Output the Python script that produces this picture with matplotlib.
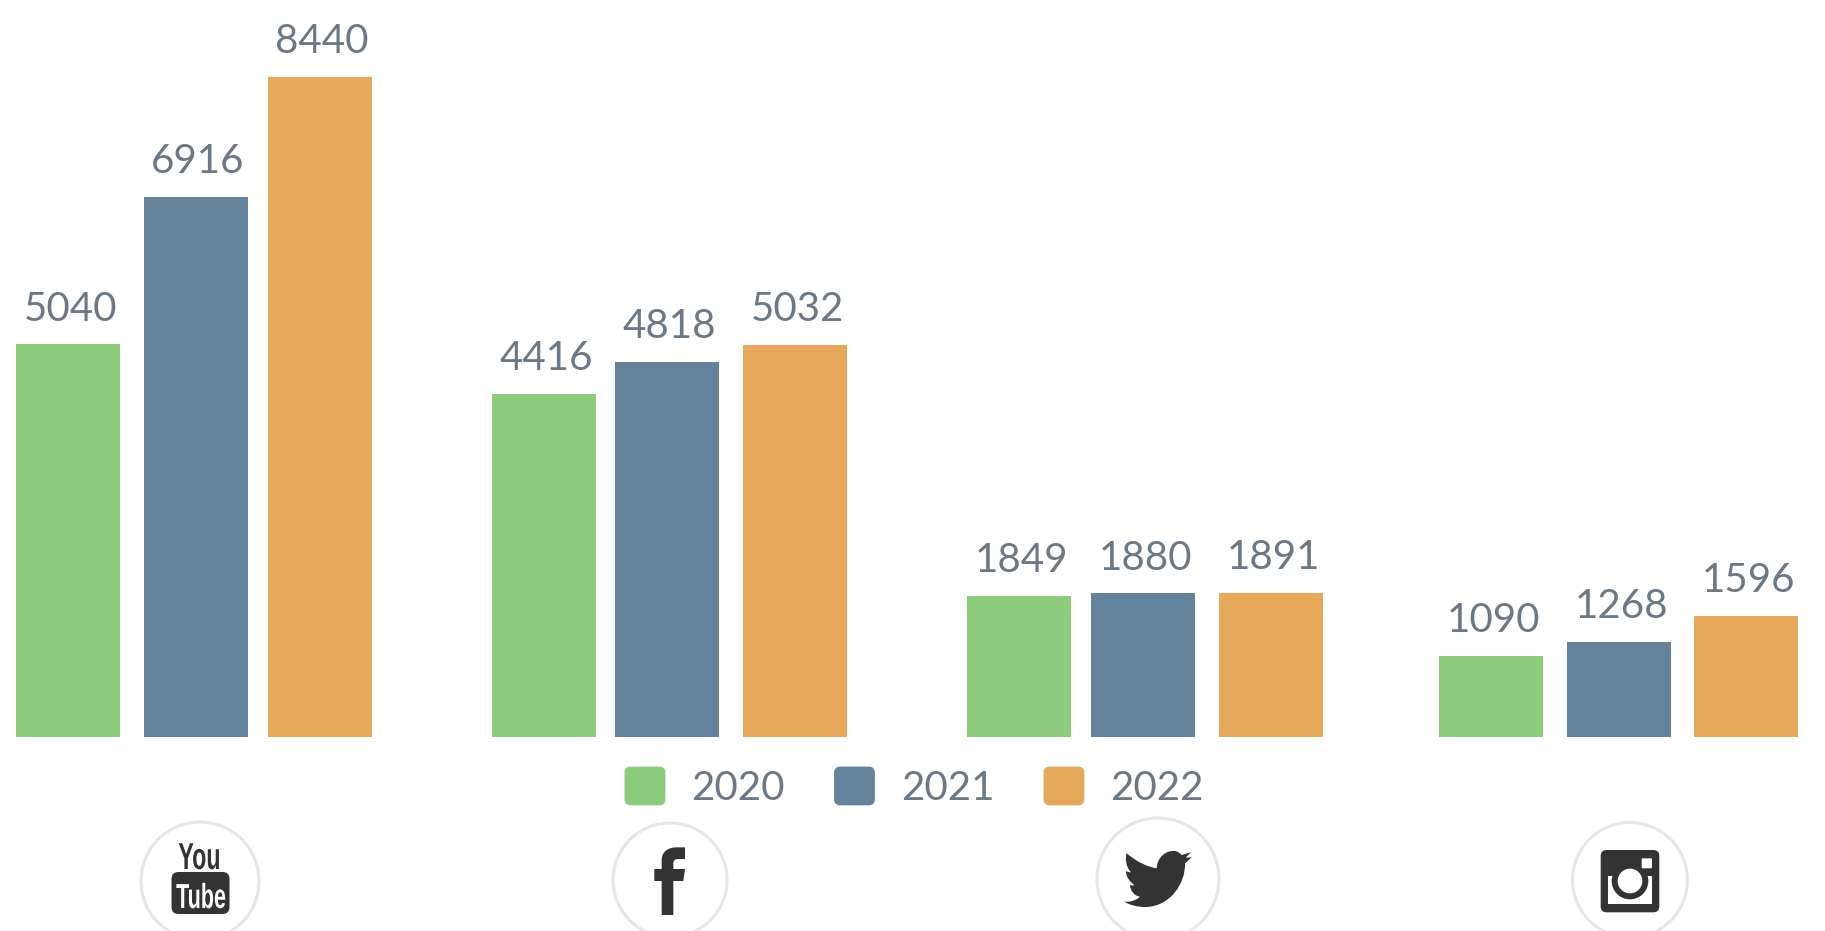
import matplotlib
matplotlib.use('Agg')
import matplotlib.pyplot as plt
from matplotlib.patches import Circle, FancyBboxPatch, Patch, PathPatch, Rectangle
from matplotlib.legend_handler import HandlerPatch
from matplotlib.path import Path
from matplotlib.patheffects import AbstractPathEffect
from matplotlib.transforms import Affine2D

plt.rcParams['font.family'] = ['Lato', 'DejaVu Sans']

years = ['2020', '2021', '2022']
values_2020 = [5040, 4416, 1849, 1090]
values_2021 = [6916, 4818, 1880, 1268]
values_2022 = [8440, 5032, 1891, 1596]

# left edges of the bars, the groups are not evenly spaced in the original
lefts_2020 = [16, 492, 967, 1439]
lefts_2021 = [144, 615, 1091, 1567]
lefts_2022 = [268, 743, 1219, 1694]
bar_width = 104

green = '#8CCB7C'
blue = '#64839B'
orange = '#E6A85B'
grey_text = '#6C7883'
dark = '#333333'
ring = '#E6E6E6'

W, H = 1825, 931
bar_base = 736.5


class Squeeze(AbstractPathEffect):
    # narrows a text sideways around cx (display pixels), for the YouTube logo
    def __init__(self, cx, k):
        super().__init__()
        self.cx = cx
        self.k = k

    def draw_path(self, renderer, gc, tpath, affine, rgbFace=None):
        t = affine + Affine2D().translate(-self.cx, 0).scale(self.k, 1).translate(self.cx, 0)
        renderer.draw_path(gc, tpath, t, rgbFace)


def rounded_handle(legend, orig_handle, xdescent, ydescent, width, height, fontsize):
    return FancyBboxPatch((-xdescent, -ydescent), width, height,
                          boxstyle='round,pad=0,rounding_size=4', linewidth=0)


fig = plt.figure(figsize=(W / 100, H / 100), dpi=100)
fig.patch.set_facecolor('white')

# bars: y scale in values, baseline of the original is slightly above zero
ax = fig.add_axes([0, (H - bar_base) / H, 1, bar_base / H])
ax.set_xlim(0, W)
ax.set_ylim(65, 9411)
ax.axis('off')

for lefts, vals, col in zip([lefts_2020, lefts_2021, lefts_2022],
                            [values_2020, values_2021, values_2022],
                            [green, blue, orange]):
    ax.bar(lefts, vals, width=bar_width, align='edge', color=col, linewidth=0)
    for l, v in zip(lefts, vals):
        ax.annotate(str(v), (l + bar_width / 2, v), xytext=(1.5, 17), textcoords='offset points',
                    ha='center', va='baseline', fontsize=29, color=grey_text, annotation_clip=False)

handles = [Patch(color=c, label=y) for c, y in zip([green, blue, orange], years)]
ax.legend(handles=handles, ncol=3, frameon=False, fontsize=29, labelcolor=grey_text,
          handlelength=0.98, handleheight=1.05, handletextpad=0.66, columnspacing=1.24,
          borderpad=0, borderaxespad=0, loc='center', bbox_to_anchor=(914.5 / W, 1 - 787 / H),
          bbox_transform=fig.transFigure,
          handler_map={Patch: HandlerPatch(patch_func=rounded_handle)})

# icons, in picture pixels
ic = fig.add_axes([0, 0, 1, 1], facecolor='none')
ic.set_xlim(0, W)
ic.set_ylim(H, 0)
ic.axis('off')

for cx, cy, r in [(200, 881, 59), (670, 880, 57), (1158, 879, 61), (1630, 880, 57.5)]:
    ic.add_patch(Circle((cx, cy), r, fill=False, edgecolor=ring, linewidth=2.2))


def icon_path(x0, pts, codes):
    return Path([(x0 + px / 3, 815 + py / 3) for px, py in pts], codes)


M, L, C, Z = Path.MOVETO, Path.LINETO, Path.CURVE4, Path.CLOSEPOLY

# youtube
ic.add_patch(FancyBboxPatch((171.5, 872), 58, 42, boxstyle='round,pad=0,rounding_size=7',
                            facecolor=dark, linewidth=0))
ic.text(199.5, 869, 'You', ha='center', va='baseline', fontsize=27, fontweight='bold', color=dark,
        family='Liberation Sans', path_effects=[Squeeze(199.5, 0.62)])
ic.text(201, 908, 'Tube', ha='center', va='baseline', fontsize=25, fontweight='bold', color='white',
        family='Liberation Sans', path_effects=[Squeeze(201, 0.62)])

# facebook
fb_pts = [(155, 300), (155, 198), (133, 198), (133, 162), (155, 162), (155, 135),
          (155, 110), (175, 97), (200, 97), (225, 97), (225, 132), (205, 132),
          (193, 132), (190, 137), (190, 147), (190, 162), (225, 162), (220, 198),
          (190, 198), (190, 300), (155, 300)]
fb_codes = [M, L, L, L, L, L, C, C, C, L, L, L, C, C, C, L, L, L, L, L, Z]
ic.add_patch(PathPatch(icon_path(610, fb_pts, fb_codes), facecolor=dark, linewidth=0))

# twitter
tw_pts = [(95, 115), (125, 140), (155, 155), (185, 160),
          (186, 128), (212, 105), (240, 108), (250, 110), (255, 115), (260, 120),
          (288, 112), (272, 128), (290, 127), (270, 145),
          (272, 205), (225, 276), (150, 276),
          (125, 276), (105, 270), (87, 260),
          (105, 263), (125, 255), (135, 245),
          (118, 243), (106, 228), (105, 210),
          (110, 212), (114, 212), (118, 210),
          (104, 200), (92, 184), (93, 168),
          (98, 171), (103, 172), (108, 172),
          (92, 155), (90, 130), (95, 115), (95, 115)]
tw_codes = [M, C, C, C, C, C, C, C, C, C, L, L, L, L, C, C, C, C, C, C,
            C, C, C, C, C, C, C, C, C, C, C, C, C, C, C, C, C, C, Z]
ic.add_patch(PathPatch(icon_path(1095, tw_pts, tw_codes), facecolor=dark, linewidth=0))

# instagram
ig_x, ig_y = 1570, 815
ic.add_patch(FancyBboxPatch((ig_x + 92 / 3, ig_y + 105 / 3), 176 / 3, 187 / 3,
                            boxstyle='round,pad=0,rounding_size=6', facecolor=dark, linewidth=0))
ic.add_patch(Rectangle((ig_x + 113 / 3, ig_y + 182 / 3), 134 / 3, 84 / 3, facecolor='white', linewidth=0))
ic.add_patch(Circle((ig_x + 180 / 3, ig_y + 198 / 3), 55 / 3, facecolor=dark, linewidth=0))
ic.add_patch(Circle((ig_x + 180 / 3, ig_y + 198 / 3), 37 / 3, facecolor='white', linewidth=0))
ic.add_patch(FancyBboxPatch((ig_x + 215 / 3, ig_y + 130 / 3), 31 / 3, 30 / 3,
                            boxstyle='round,pad=0,rounding_size=1', facecolor='white', linewidth=0))

plt.savefig('out.png', dpi=100)
